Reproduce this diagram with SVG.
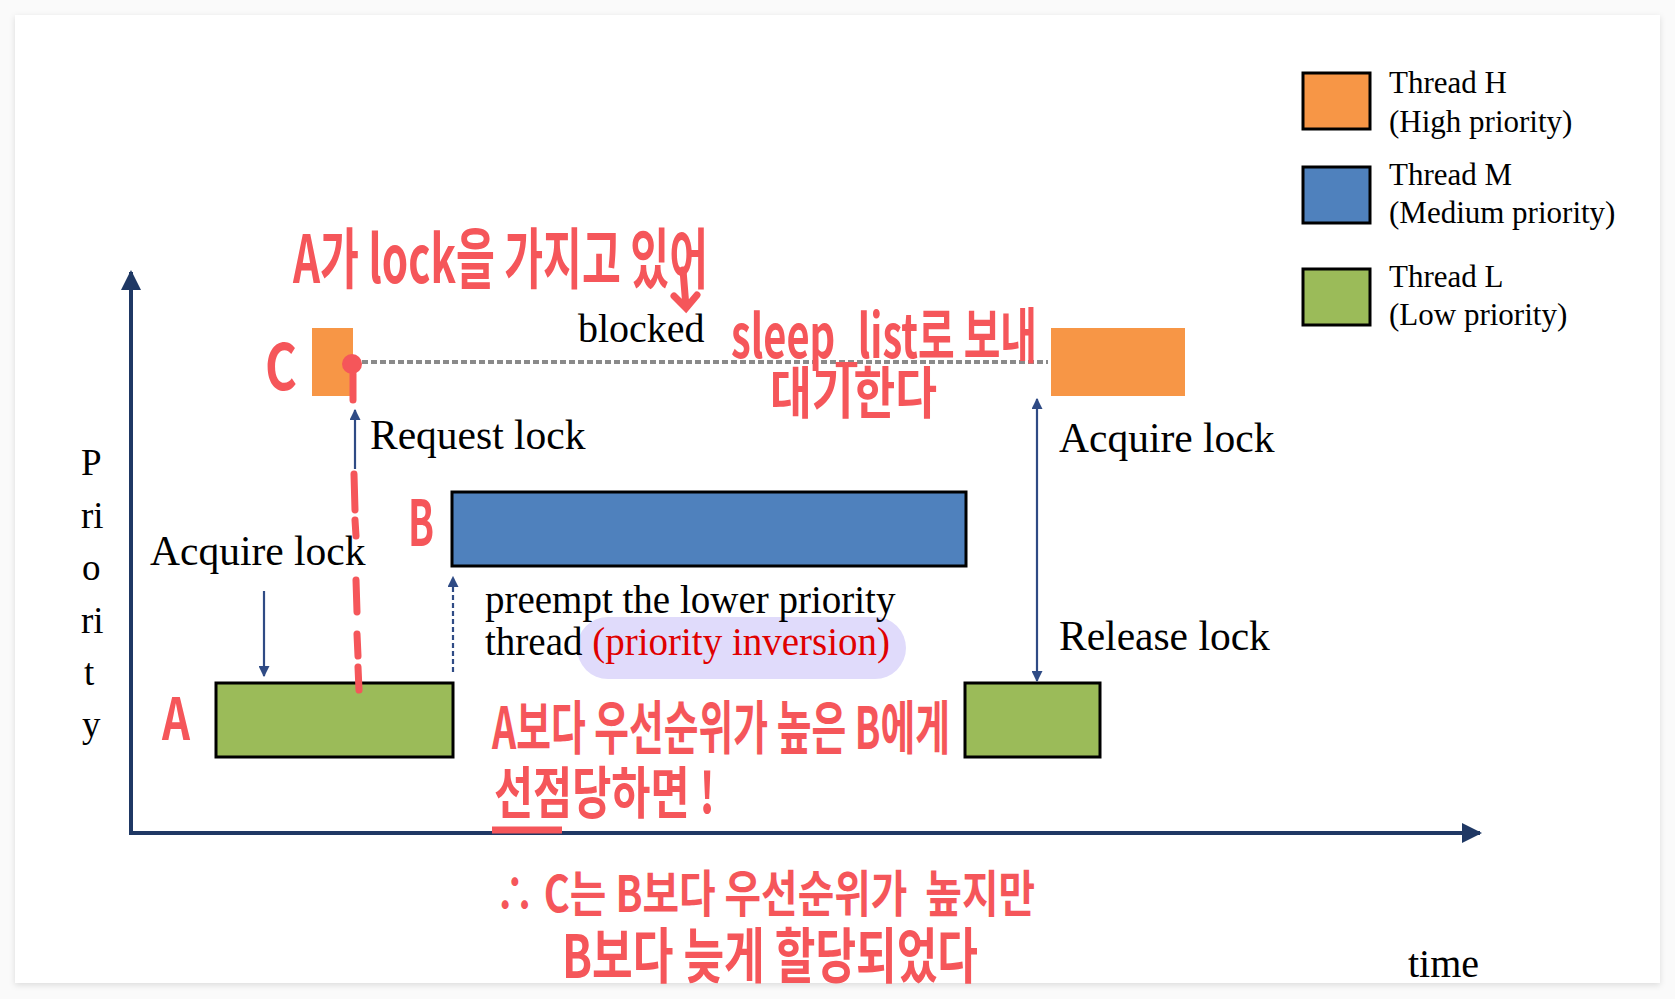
<svg xmlns="http://www.w3.org/2000/svg" width="1675" height="999" viewBox="0 0 1675 999">
<style>
.lbl{font-family:"Liberation Serif","Times New Roman",serif;fill:#000}
.hw{font-family:"Noto Sans CJK KR","Noto Sans",sans-serif;font-weight:700;fill:#f5565a}
.box{stroke:#000;stroke-width:3}
.orange{fill:#f79646}
.blue{fill:#4f81bd}
.green{fill:#9bbb59}
.axis{stroke:#1f3864;stroke-width:4;fill:none}
.thin{stroke:#2f4b85;stroke-width:2.2;fill:none}
.red{stroke:#f5565a;stroke-width:7;fill:none;stroke-linecap:round}
</style>
<defs>
<filter id="sh" x="-5%" y="-5%" width="110%" height="110%">
<feDropShadow dx="0" dy="2" stdDeviation="3" flood-color="#000" flood-opacity="0.12"/>
</filter>
<marker id="bigArrow" viewBox="0 0 10 10" refX="9" refY="5" markerWidth="5" markerHeight="5.5" orient="auto" markerUnits="strokeWidth">
<path d="M0,0 L10,5 L0,10 Z" fill="#1f3864"/>
</marker>
<marker id="smallArrow" viewBox="0 0 10 10" refX="9" refY="5" markerWidth="5" markerHeight="5" orient="auto-start-reverse" markerUnits="strokeWidth">
<path d="M0,0 L10,5 L0,10 Z" fill="#2f4b85"/>
</marker>
</defs>
<rect x="0" y="0" width="1675" height="999" fill="#fafafa"/>
<rect x="15" y="15" width="1645" height="968" fill="#fff" filter="url(#sh)"/>

<g id="axes">
<line class="axis" x1="131" y1="833" x2="131" y2="272" marker-end="url(#bigArrow)"/>
<line class="axis" x1="129" y1="833" x2="1480" y2="833" marker-end="url(#bigArrow)"/>
<g class="lbl" font-size="37">
<text x="81" y="475">P</text>
<text x="81" y="528">ri</text>
<text x="82" y="580">o</text>
<text x="81" y="633">ri</text>
<text x="84" y="685">t</text>
<text x="82" y="737">y</text>
</g>
<text class="lbl" x="1408" y="977" font-size="40">time</text>
</g>

<g id="legend">
<rect class="box orange" x="1303" y="73" width="67" height="56"/>
<rect class="box blue" x="1303" y="167" width="67" height="56"/>
<rect class="box green" x="1303" y="269" width="67" height="56"/>
<g class="lbl" font-size="31">
<text x="1389" y="93">Thread H</text>
<text x="1389" y="132">(High priority)</text>
<text x="1389" y="185">Thread M</text>
<text x="1389" y="223">(Medium priority)</text>
<text x="1389" y="287">Thread L</text>
<text x="1389" y="325">(Low priority)</text>
</g>
</g>

<g id="node-C">
<rect class="orange" x="312" y="328" width="41" height="68"/>
</g>
<g id="node-H-acquire">
<rect class="orange" x="1051" y="328" width="134" height="68"/>
</g>
<g id="node-B">
<rect class="box blue" x="452" y="492" width="514" height="74"/>
</g>
<g id="node-A">
<rect class="box green" x="216" y="683" width="237" height="74"/>
</g>
<g id="node-A-release">
<rect class="box green" x="965" y="683" width="135" height="74"/>
</g>

<g id="connectors">
<line x1="362" y1="362" x2="1048" y2="362" stroke="#8a8a8a" stroke-width="4" stroke-dasharray="6 3"/>
<line class="thin" x1="264" y1="591" x2="264" y2="676" marker-end="url(#smallArrow)"/>
<line class="thin" x1="355" y1="469" x2="355" y2="410" marker-end="url(#smallArrow)"/>
<line class="thin" x1="453" y1="672" x2="453" y2="577" stroke-dasharray="5 3" marker-end="url(#smallArrow)"/>
<line class="thin" x1="1037" y1="399" x2="1037" y2="681" marker-start="url(#smallArrow)" marker-end="url(#smallArrow)"/>
</g>

<g id="labels">
<text class="lbl" x="578" y="342" font-size="40">blocked</text>
<text class="lbl" x="370" y="449" font-size="41.5">Request lock</text>
<text class="lbl" x="150" y="565" font-size="41.5">Acquire lock</text>
<text class="lbl" x="1059" y="452" font-size="41.5">Acquire lock</text>
<text class="lbl" x="1059" y="650" font-size="41.5">Release lock</text>
<rect x="577" y="617" width="329" height="62" rx="31" fill="#e0dbfb"/>
<text class="lbl" x="485" y="613" font-size="39">preempt the lower priority</text>
<text class="lbl" x="485" y="655" font-size="39">thread <tspan fill="#e00000">(priority inversion)</tspan></text>
</g>

<g id="annotations">
<circle cx="352" cy="364" r="10" fill="#f5565a"/>
<path class="red" d="M353 374 L353 400 M354 474 L355 510 M355 520 L356 536 M356 580 L357 612 M357 634 L358 656 M358 667 L359 690"/>
<path class="red" stroke-width="6" d="M683 270 L686 307 M674 296 L686 308 L697 295"/>
<line x1="492" y1="830" x2="562" y2="830" stroke="#f5565a" stroke-width="7"/>
<text class="hw" x="265" y="390" font-size="64" textLength="32" lengthAdjust="spacingAndGlyphs">C</text>
<text class="hw" x="408" y="546" font-size="64" textLength="26" lengthAdjust="spacingAndGlyphs">B</text>
<text class="hw" x="162" y="740" font-size="58" textLength="28" lengthAdjust="spacingAndGlyphs">A</text>
<text class="hw" x="293" y="283" font-size="66" textLength="415" lengthAdjust="spacingAndGlyphs">A가 lock을 가지고 있어</text>
<text class="hw" x="731" y="358" font-size="60" textLength="306" lengthAdjust="spacingAndGlyphs">sleep_list로 보내</text>
<text class="hw" x="770" y="413" font-size="56" textLength="167" lengthAdjust="spacingAndGlyphs">대기한다</text>
<text class="hw" x="492" y="749" font-size="58" textLength="458" lengthAdjust="spacingAndGlyphs">A보다 우선순위가 높은 B에게</text>
<text class="hw" x="494" y="813" font-size="56" textLength="221" lengthAdjust="spacingAndGlyphs">선점당하면 !</text>
<text class="hw" x="495" y="912" font-size="50" textLength="540" lengthAdjust="spacingAndGlyphs" xml:space="preserve">∴ C는 B보다 우선순위가  높지만</text>
<text class="hw" x="562" y="978" font-size="60" textLength="416" lengthAdjust="spacingAndGlyphs">B보다 늦게 할당되었다</text>
</g>
</svg>
